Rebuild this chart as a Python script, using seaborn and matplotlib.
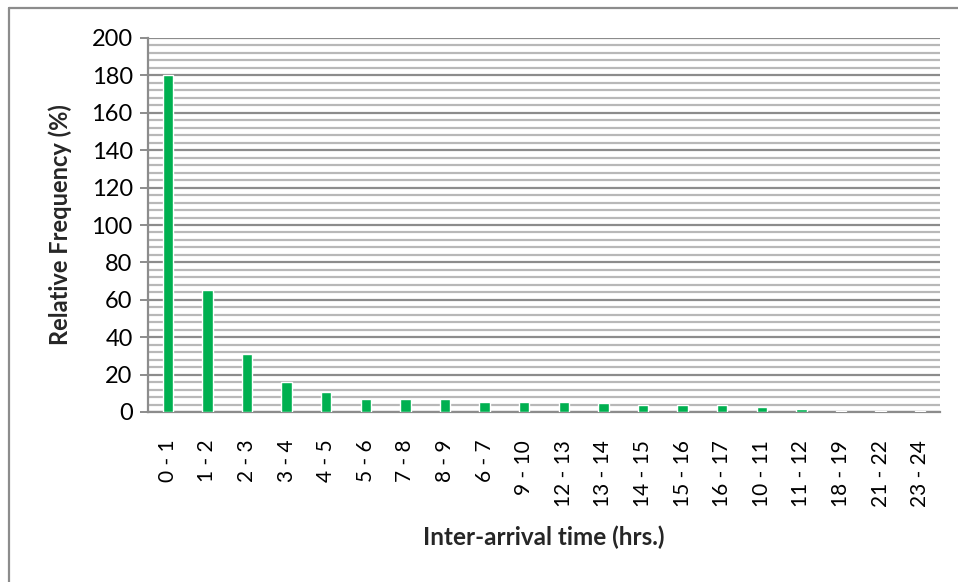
import matplotlib
matplotlib.use("Agg")
import matplotlib.pyplot as plt
import seaborn as sns
import pandas as pd
from matplotlib.lines import Line2D
from matplotlib.ticker import MultipleLocator

categories = ["0 - 1", "1 - 2", "2 - 3", "3 - 4", "4 - 5", "5 - 6", "7 - 8", "8 - 9",
              "6 - 7", "9 - 10", "12 - 13", "13 - 14", "14 - 15", "15 - 16", "16 - 17",
              "10 - 11", "11 - 12", "18 - 19", "21 - 22", "23 - 24"]
values = [180, 65, 31, 16, 10.5, 7, 7, 7, 5.5, 5.5, 5.5, 4.6, 3.6, 3.6, 3.6,
          2.5, 1.4, 0.5, 0.5, 0.5]

sns.set_theme(style="white")
plt.rcParams['font.family'] = ['Lato', 'DejaVu Sans']

df = pd.DataFrame({"cat": categories, "val": values})

fig = plt.figure(figsize=(9.58, 5.82), dpi=100)
ax = fig.add_axes([148/958, 1-412/582, (940-148)/958, (412-38)/582])

ax.set_ylim(0, 200)
ax.yaxis.set_major_locator(MultipleLocator(20))
ax.yaxis.set_minor_locator(MultipleLocator(4))
ax.grid(which='minor', axis='y', color='#b8b8b8', lw=1.6, zorder=0)
ax.grid(which='major', axis='y', color='#8c8c8c', lw=1.6, zorder=0)
ax.set_axisbelow(True)

sns.barplot(data=df, x="cat", y="val", color="#00b050", width=0.26,
            saturation=1, ax=ax, zorder=3)

for s in ['top', 'right']:
    ax.spines[s].set_visible(False)
ax.spines['left'].set_color('#8c8c8c')
ax.spines['bottom'].set_color('#8c8c8c')
ax.spines['left'].set_linewidth(1.6)
ax.spines['bottom'].set_linewidth(1.6)

ax.tick_params(axis='y', which='major', left=True, length=6, width=1.4,
               color='#8c8c8c', labelsize=17, pad=5, labelcolor='black')
ax.tick_params(axis='y', which='minor', left=False)
ax.tick_params(axis='x', bottom=False, labelsize=15, pad=14, labelcolor='black')
ax.set_xticks(range(len(categories)))
ax.set_xticklabels(categories, rotation=90)

ax.set_ylabel("Relative Frequency (%)", fontsize=17, fontweight='bold', va='center')
ax.set_xlabel("Inter-arrival time (hrs.)", fontsize=17.5, fontweight='bold', va='center')
ax.yaxis.set_label_coords((60-148)/792, 0.5)
ax.xaxis.set_label_coords(0.5, (412-537)/374)

fig.add_artist(Line2D([8.5/958, 1], [1-8/582, 1-8/582], color='#8c8c8c', lw=1.6,
                      transform=fig.transFigure))
fig.add_artist(Line2D([8.5/958, 8.5/958], [0, 1-8/582], color='#8c8c8c', lw=1.6,
                      transform=fig.transFigure))

fig.savefig("out.png", dpi=100)
